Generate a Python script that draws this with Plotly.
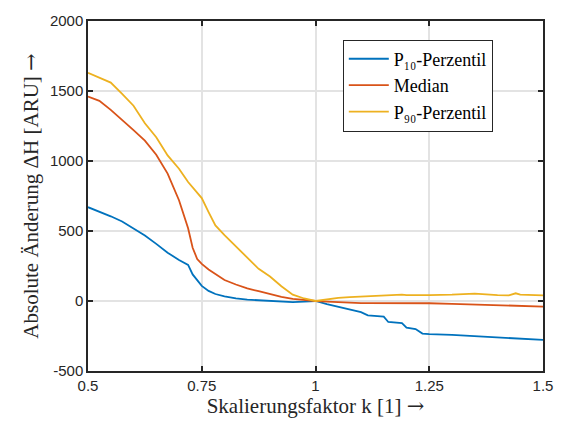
import plotly.graph_objects as go

k = [0.5, 0.525, 0.55, 0.575, 0.6, 0.625, 0.65, 0.675, 0.7, 0.72, 0.73, 0.74, 0.75,
     0.765, 0.78, 0.8, 0.825, 0.85, 0.875, 0.9, 0.925, 0.95, 0.975, 1.0, 1.025, 1.05,
     1.075, 1.1, 1.115, 1.15, 1.16, 1.19, 1.2, 1.22, 1.235, 1.25, 1.3, 1.35, 1.4,
     1.425, 1.44, 1.45, 1.5]

p10 = [670, 640, 605, 568, 520, 468, 408, 345, 293, 258, 190, 145, 108,
       72, 50, 33, 18, 10, 5, 0, -3, -8, -5, 0, -22, -42,
       -58, -80, -103, -112, -150, -158, -190, -200, -233, -237, -242, -250, -258,
       -262, -265, -267, -278]

median = [1460, 1430, 1365, 1295, 1220, 1145, 1045, 910, 720, 520, 380, 300, 265,
          225, 195, 150, 118, 90, 70, 48, 30, 15, 5, 0, -5, -10,
          -12, -15, -15, -14, -14, -14, -15, -15, -15, -16, -20, -25, -32,
          -35, -37, -38, -40]

p90 = [1630, 1595, 1560, 1480, 1395, 1270, 1170, 1040, 945, 850, 810, 770, 735,
       635, 540, 470, 390, 315, 230, 175, 105, 45, 18, 0, 12, 22,
       28, 33, 36, 42, 45, 46, 42, 40, 41, 42, 45, 52, 42,
       40, 55, 45, 40]

names = ["P₁₀-Perzentil", "Median", "P₉₀-Perzentil"]
colors = ["#0072BD", "#D95319", "#EDB120"]

x_ticks = [0.5, 0.75, 1, 1.25, 1.5]
x_ticklabels = ["0.5", "0.75", "1", "1.25", "1.5"]
y_ticks = [-500, 0, 500, 1000, 1500, 2000]
y_ticklabels = ["-500", "0", "500", "1000", "1500", "2000"]

arrow = '<span style="font-family:DejaVu Serif">→</span>'

fig = go.Figure()
for name, ys, c in zip(names, [p10, median, p90], colors):
    fig.add_trace(go.Scatter(x=k, y=ys, mode="lines", name=name,
                             line=dict(color=c, width=1.8)))

axis_common = dict(
    showline=True, linecolor="#262626", linewidth=1.5, mirror="ticks",
    ticks="inside", ticklen=5, tickwidth=1.5, tickcolor="#262626",
    showgrid=True, gridcolor="#e3e3e3", gridwidth=1.5, zeroline=False,
    tickfont=dict(family="Liberation Sans, Arial", size=15, color="#262626"),
)

serif = "Liberation Serif, Times New Roman"

fig.update_layout(
    width=565, height=423,
    margin=dict(l=88, r=20, t=16, b=51),
    paper_bgcolor="white", plot_bgcolor="white",
    xaxis=dict(range=[0.5, 1.5], tickvals=x_ticks, ticktext=x_ticklabels,
               title=dict(text="Skalierungsfaktor k [1] " + arrow, standoff=3,
                          font=dict(family=serif, size=21, color="#262626")),
               **axis_common),
    yaxis=dict(range=[-500, 2000], tickvals=y_ticks, ticktext=y_ticklabels,
               title=dict(text="Absolute Änderung ΔH [ARU] " + arrow, standoff=6,
                          font=dict(family=serif, size=21, color="#262626")),
               **axis_common),
    legend=dict(x=0.56, y=0.947, xanchor="left", yanchor="top",
                bgcolor="white", bordercolor="#262626", borderwidth=1,
                font=dict(family=serif, size=18, color="#000"),
                tracegroupgap=0, itemwidth=40),
    showlegend=True,
)

fig.write_html("out.html")
